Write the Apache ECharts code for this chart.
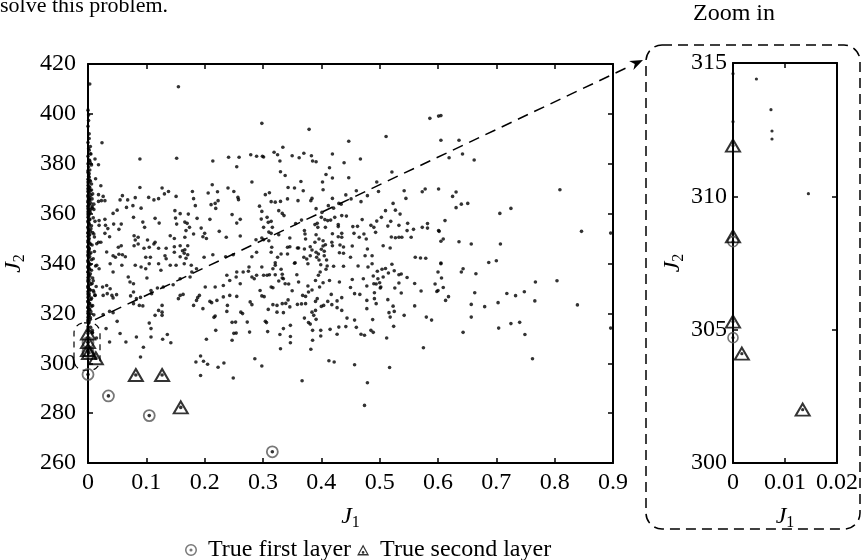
<!DOCTYPE html>
<html><head><meta charset="utf-8">
<script src="https://cdn.jsdelivr.net/npm/echarts@6/dist/echarts.min.js"></script>
<style>html,body{margin:0;padding:0;background:#fff}#c{width:863px;height:560px}</style>
</head><body><div id="c"></div>
<script>
// ---- data (J1, J2) ----
const xTicksMain = ['0','0.1','0.2','0.3','0.4','0.5','0.6','0.7','0.8','0.9'];
const yTicksMain = ['260','280','300','320','340','360','380','400','420'];
const legendNames = ['True first layer', 'True second layer'];

const firstLayer = [[0,295.5],[0.035,286.9],[0.105,279.0],[0.316,264.5],[0,304.7],[0,308.3]];
const secondLayer = [[0.082,295.3],[0.127,295.3],[0.159,282.3],[0,305.3],[0,308.5],[0,311.9],[0.0017,304.1],[0.0134,302.0]];

const columnNearZero = [[0,401.5],[0.001,399.5],[0,395],[0.002,392],[0,388.5],[0.001,386],[0.004,384],[0,383],[0.002,381.5],[0,380],[0.001,378.8],[0.003,377.5],[0,376.5],[0.001,375.5],[0.002,374.6],[0,373.8],[0.004,373],[0.001,372.2],[0,371.3],[0.003,370.5],[0.001,369.8],[0,369],[0.002,368.2],[0.005,367.4],[0,366.8],[0.001,366],[0.003,365.3],[0,364.6],[0.002,363.8],[0,363],[0.001,362.3],[0.004,361.6],[0,360.8],[0.002,360],[0.001,359.3],[0,358.5],[0.003,357.8],[0,357],[0.001,356.2],[0.002,355.4],[0,354.6],[0.005,353.9],[0.001,353.1],[0,352.4],[0.003,351.6],[0,350.8],[0.002,350],[0.001,349.2],[0,348.5],[0.004,347.7],[0,346.9],[0.002,346.1],[0.001,345.3],[0,344.6],[0.003,343.8],[0,343],[0.001,342.2],[0.006,341.5],[0,340.7],[0.002,339.9],[0.001,339.1],[0,338.3],[0.003,337.5],[0,336.7],[0.004,335.9],[0.001,335.2],[0,334.4],[0.002,333.6],[0,332.8],[0.007,332],[0.001,331.2],[0,330.4],[0.003,329.6],[0,328.8],[0.002,328],[0.001,327.2],[0,326.4],[0.005,325.6],[0,324.8],[0.002,324],[0.001,323.2],[0,322.4],[0.003,321.6],[0,320.8],[0.001,320],[0.002,319.2],[0,318.4],[0.004,317.6],[0,316.8],[0.001,316],[0,314.6],[0,312.8],[0.0045,314.4],[0.0073,313.25],[0.0075,312.45],[0.0075,312.15],[0.0145,310.1]];

const columnDense = [[0,377.2],[0.002,376.1],[0.001,374.9],[0.003,373.4],[0,372.7],[0.006,371.9],[0.002,370.8],[0,370.1],[0.004,369.3],[0.001,368.6],[0.008,367.9],[0,367.3],[0.003,366.4],[0.002,365.7],[0,365.1],[0.005,364.2],[0.001,363.4],[0.007,362.8],[0,362],[0.002,361.2],[0.004,360.4],[0,359.8],[0.001,359],[0.009,358.3],[0.003,357.5],[0,356.6],[0.002,355.9],[0.006,355.1],[0,354.3],[0.001,353.6],[0.004,352.9],[0,352.1],[0.002,351.2],[0.011,350.6],[0.001,349.8],[0,349.1],[0.003,348.2],[0.007,347.4],[0,346.5],[0.002,345.8],[0.001,345],[0.005,344.3],[0,343.5],[0.003,342.7],[0.009,341.9],[0,341.2],[0.001,340.4],[0.004,339.6],[0,338.8],[0.002,338.1],[0.006,337.3],[0,336.5],[0.001,335.7],[0.003,334.9],[0.008,334.2],[0,333.4],[0.002,332.5],[0.005,331.7],[0,330.9],[0.001,330.1],[0.004,329.3],[0.010,328.6],[0,327.8],[0.002,327],[0.006,326.1],[0.001,325.3],[0,324.6],[0.003,323.9],[0.008,323.1],[0,322.3],[0.002,321.5],[0.005,320.7],[0,319.9],[0.001,319.1],[0.004,318.3],[0,317.4],[0.002,316.6],[0.007,365.9],[0.010,361.7],[0.012,356.9],[0.008,352.4],[0.011,344.8],[0.013,339],[0.009,333.1],[0.012,327.3],[0.006,322.9],[0.010,319.4],[0.014,330.8],[0.015,347.9],[0.004,386.9],[0.002,390.1],[0.001,397.3],[0.003,381.2],[0.006,379.5],[0.002,385.4]];

const upperLeft = [[0.003,412.0],[0.155,410.9],[0.298,396.2],[0.024,388.4],[0.005,383.9],[0.012,381.9],[0.018,379.6],[0.004,380.4],[0.089,381.9],[0.152,382.2],[0.214,381.1],[0.241,382.6],[0.259,382.6],[0.279,383.6],[0.289,383.0],[0.299,383.0],[0.255,378.8],[0.013,374.0],[0.022,371.2],[0.281,372.7],[0.213,371.6],[0.089,370.5],[0.127,370.3],[0.138,368.9],[0.179,368.9],[0.206,368.3],[0.222,368.8],[0.240,370.3],[0.250,368.9],[0.006,369.5],[0.018,367.6],[0.026,366.9],[0.059,367.2],[0.055,365.5],[0.068,365.5],[0.081,366.4],[0.104,366.5],[0.113,365.5],[0.121,366.0],[0.131,367.9],[0.151,366.9],[0.181,366.0],[0.211,363.6],[0.218,364.1],[0.223,365.2],[0.219,362.1],[0.257,366.5],[0.258,365.6],[0.184,363.2],[0.018,364.9],[0.023,365.2],[0.029,365.2],[0.010,363.8],[0.007,362.2],[0.043,360.1],[0.050,361.4],[0.066,362.5],[0.077,363.2],[0.091,362.2],[0.078,358.5],[0.115,358.1],[0.122,356.2],[0.094,356.6],[0.097,354.5],[0.149,361.2],[0.158,360.0],[0.150,358.2],[0.152,355.8],[0.172,359.8],[0.166,356.6],[0.170,356.1],[0.187,358.1],[0.247,359.6],[0.255,356.2],[0.261,357.7],[0.294,363.0],[0.298,360.9],[0.297,357.8],[0.209,357.7],[0.019,357.2],[0.029,357.7],[0.019,355.3],[0.030,355.3],[0.044,355.8],[0.057,355.8],[0.053,353.7],[0.034,354.0],[0.079,351.1],[0.081,349.4],[0.086,350.5],[0.102,349.4],[0.113,347.8],[0.115,348.5],[0.141,351.1],[0.148,350.0],[0.174,354.5],[0.168,353.2],[0.166,350.5],[0.181,351.8],[0.194,354.2],[0.200,352.1],[0.197,350.7],[0.203,350.0],[0.225,352.9],[0.237,350.5],[0.261,351.0],[0.288,349.5],[0.029,352.1],[0.037,350.7],[0.010,351.8],[0.018,348.5],[0.022,348.5],[0.032,344.6],[0.043,343.1],[0.047,342.5],[0.053,343.7],[0.059,343.5],[0.064,342.7],[0.052,346.5],[0.057,347.1],[0.079,347.1],[0.086,347.8],[0.096,346.1],[0.105,346.5],[0.121,346.1],[0.134,346.1],[0.099,342.5],[0.107,342.5],[0.132,343.1],[0.134,341.9],[0.148,346.7],[0.158,347.1],[0.162,345.1],[0.166,345.5],[0.165,344.1],[0.171,343.5],[0.168,342.1],[0.171,347.1],[0.158,342.7],[0.148,344.5],[0.199,342.5],[0.214,343.5],[0.236,342.7],[0.249,343.5],[0.281,342.7],[0.289,344.5]];

const upperMiddle = [[0.379,393.8],[0.586,398.2],[0.601,399.1],[0.511,390.9],[0.447,389.0],[0.334,386.6],[0.319,384.6],[0.325,383.6],[0.301,382.7],[0.350,383.2],[0.362,382.4],[0.370,384.2],[0.383,383.2],[0.385,381.1],[0.391,380.8],[0.419,383.9],[0.439,380.4],[0.467,381.9],[0.329,381.1],[0.414,378.4],[0.330,376.8],[0.338,375.3],[0.408,375.7],[0.419,374.3],[0.447,374.4],[0.521,376.7],[0.365,372.9],[0.402,372.7],[0.495,372.7],[0.498,368.9],[0.601,369.9],[0.578,369.9],[0.573,368.8],[0.542,369.2],[0.545,366.1],[0.343,370.5],[0.354,370.3],[0.369,369.2],[0.403,369.6],[0.304,367.6],[0.311,368.4],[0.460,369.2],[0.479,367.2],[0.442,367.5],[0.384,366.1],[0.382,365.2],[0.360,365.2],[0.342,365.9],[0.314,364.8],[0.321,364.6],[0.330,364.9],[0.419,366.1],[0.430,364.1],[0.434,363.8],[0.451,365.9],[0.468,364.8],[0.523,364.1],[0.527,361.4],[0.535,359.8],[0.412,363.2],[0.421,362.2],[0.391,362.0],[0.401,360.5],[0.510,361.2],[0.327,361.2],[0.333,360.1],[0.336,359.2],[0.307,358.5],[0.314,356.9],[0.309,356.5],[0.356,356.0],[0.366,357.4],[0.400,358.5],[0.406,357.6],[0.411,357.2],[0.423,358.5],[0.435,359.2],[0.443,359.0],[0.470,357.6],[0.503,358.5],[0.495,357.0],[0.519,356.9],[0.301,354.5],[0.310,352.6],[0.316,354.5],[0.371,353.2],[0.372,351.8],[0.389,355.6],[0.393,356.1],[0.394,354.5],[0.407,354.5],[0.416,357.4],[0.429,355.6],[0.429,354.8],[0.454,354.8],[0.462,354.9],[0.485,355.3],[0.490,354.5],[0.514,355.0],[0.533,355.3],[0.548,356.1],[0.547,353.2],[0.558,353.7],[0.573,354.5],[0.582,356.0],[0.582,354.2],[0.601,353.2],[0.327,351.5],[0.346,350.2],[0.298,350.2],[0.314,352.1],[0.373,349.8],[0.361,346.2],[0.371,345.8],[0.381,346.7],[0.391,351.5],[0.389,348.5],[0.396,349.8],[0.403,349.1],[0.403,347.0],[0.400,345.7],[0.407,347.5],[0.405,344.9],[0.419,351.9],[0.418,348.5],[0.419,347.1],[0.429,350.7],[0.435,352.1],[0.435,350.5],[0.432,347.4],[0.438,346.6],[0.456,352.1],[0.465,350.5],[0.453,347.0],[0.473,351.8],[0.477,349.8],[0.493,352.5],[0.506,347.1],[0.520,350.6],[0.527,350.3],[0.533,350.5],[0.538,350.5],[0.554,350.5],[0.315,346.5],[0.314,344.5],[0.301,349.5],[0.310,349.1],[0.342,346.5],[0.346,346.7],[0.359,346.2],[0.384,345.4],[0.391,344.5],[0.395,343.8],[0.392,342.5],[0.396,341.4],[0.381,343.1],[0.370,342.5],[0.375,341.8],[0.405,343.1],[0.409,341.4],[0.431,344.3],[0.438,344.1],[0.450,342.5],[0.479,345.8],[0.487,343.1],[0.475,343.1],[0.518,346.2],[0.561,342.5],[0.570,342.2],[0.579,342.1],[0.325,342.5],[0.321,340.3],[0.331,343.8],[0.342,343.8],[0.355,340.3]];

const upperRight = [[0.605,399.3],[0.605,389.4],[0.636,389.4],[0.619,382.4],[0.642,383.9],[0.662,381.5],[0.631,368.7],[0.625,366.9],[0.809,369.6],[0.640,363.8],[0.651,364.1],[0.631,362.4],[0.725,362.1],[0.706,360.1],[0.612,357.2],[0.602,352.9],[0.609,349.8],[0.605,348.9],[0.636,348.7],[0.657,347.8],[0.707,347.8],[0.846,352.9],[0.896,352.2],[0.687,340.4],[0.700,341.1],[0.605,340.2]];

const lowerLeft = [[0.026,319.5],[0.037,320.8],[0.043,320.3],[0.031,313.9],[0.037,308.5],[0.050,316.8],[0.055,311.9],[0.065,308.5],[0.083,310.5],[0.095,306.4],[0.090,302.5],[0.105,316.1],[0.108,313.9],[0.108,310.5],[0.115,319.2],[0.121,321.2],[0.127,320.5],[0.127,319.2],[0.127,323.2],[0.128,309.6],[0.136,311.5],[0.142,308.2],[0.088,323.2],[0.094,323.0],[0.078,323.9],[0.083,325.9],[0.073,327.0],[0.078,328.6],[0.090,326.4],[0.155,325.9],[0.158,327.2],[0.163,327.6],[0.181,323.2],[0.186,325.2],[0.188,326.3],[0.191,327.2],[0.197,321.9],[0.209,324.8],[0.212,324.3],[0.203,309.6],[0.219,313.2],[0.218,318.9],[0.216,318.4],[0.185,300.5],[0.193,302.9],[0.198,300.8],[0.205,299.6],[0.193,295.1],[0.223,298.4],[0.233,300.1],[0.249,294.1],[0.247,309.2],[0.250,312.0],[0.253,316.5],[0.247,316.4],[0.254,312.1],[0.262,320.5],[0.265,319.9],[0.273,316.5],[0.277,312.5],[0.238,320.8],[0.239,323.2],[0.243,327.2],[0.255,326.8],[0.278,324.6],[0.281,323.5],[0.286,301.8],[0.295,329.2],[0.015,339.3],[0.019,337.9],[0.038,339.9],[0.043,336.6],[0.058,339.3],[0.081,339.3],[0.091,338.6],[0.105,339.9],[0.099,337.9],[0.121,339.9],[0.125,337.3],[0.141,339.3],[0.151,339.3],[0.165,339.9],[0.177,339.3],[0.186,337.9],[0.175,334.6],[0.178,336.6],[0.158,333.9],[0.146,331.5],[0.129,330.6],[0.119,330.2],[0.108,329.2],[0.109,327.9],[0.025,330.6],[0.032,331.2],[0.038,329.9],[0.033,327.9],[0.041,327.2],[0.043,326.2],[0.049,327.5],[0.012,327.2],[0.009,329.2],[0.026,327.2],[0.072,332.6],[0.078,331.9],[0.069,334.6],[0.101,334.2],[0.201,330.6],[0.218,330.6],[0.232,331.2],[0.238,335.3],[0.243,333.2],[0.255,336.6],[0.254,334.6],[0.261,331.9],[0.266,336.6],[0.276,338.6],[0.275,336.9],[0.281,334.6],[0.285,333.9],[0.289,335.3],[0.298,338.6],[0.232,326.6],[0.221,325.2]];

const lowerMiddle = [[0.298,298.9],[0.367,293.0],[0.413,301.0],[0.422,300.5],[0.457,299.4],[0.479,292.2],[0.474,283.1],[0.517,298.3],[0.575,306.2],[0.330,305.8],[0.382,305.6],[0.347,308.2],[0.347,310.7],[0.347,315.2],[0.329,311.5],[0.335,313.9],[0.308,312.7],[0.304,316.8],[0.306,316.3],[0.309,321.6],[0.324,320.5],[0.335,320.3],[0.324,323.2],[0.317,323.5],[0.298,327.0],[0.302,326.7],[0.343,325.4],[0.346,322.6],[0.333,323.9],[0.339,324.0],[0.359,323.6],[0.366,323.8],[0.373,323.9],[0.368,327.2],[0.373,326.8],[0.378,328.6],[0.384,329.4],[0.377,331.0],[0.350,329.1],[0.314,330.6],[0.317,330.3],[0.327,333.0],[0.333,334.2],[0.338,331.9],[0.344,331.8],[0.301,335.3],[0.307,335.3],[0.311,335.5],[0.321,335.5],[0.317,337.9],[0.321,339.3],[0.331,337.7],[0.333,335.7],[0.335,333.9],[0.354,340.1],[0.358,335.5],[0.361,332.6],[0.377,339.9],[0.390,333.2],[0.395,335.3],[0.398,336.6],[0.399,339.5],[0.408,337.7],[0.414,333.2],[0.410,339.0],[0.403,332.3],[0.397,330.6],[0.421,338.9],[0.438,338.9],[0.431,332.6],[0.417,327.6],[0.390,324.8],[0.393,325.9],[0.400,322.8],[0.404,323.2],[0.411,324.8],[0.418,323.5],[0.427,325.0],[0.435,326.3],[0.427,322.3],[0.435,321.2],[0.384,320.5],[0.390,321.2],[0.387,319.2],[0.371,318.1],[0.378,316.3],[0.381,315.7],[0.391,317.6],[0.385,313.2],[0.399,313.2],[0.399,310.9],[0.385,309.2],[0.415,313.6],[0.430,314.5],[0.427,311.6],[0.444,318.1],[0.442,314.7],[0.457,317.3],[0.460,314.4],[0.468,311.6],[0.474,311.2],[0.488,317.5],[0.485,313.2],[0.489,312.4],[0.450,330.4],[0.453,333.6],[0.457,327.9],[0.466,327.6],[0.472,333.9],[0.478,331.0],[0.463,339.0],[0.480,338.6],[0.487,339.9],[0.489,335.0],[0.490,331.9],[0.494,331.8],[0.500,332.3],[0.501,330.2],[0.491,328.3],[0.491,325.9],[0.494,323.9],[0.478,325.2],[0.478,321.9],[0.496,336.9],[0.504,337.7],[0.510,338.0],[0.515,336.2],[0.521,339.7],[0.525,337.1],[0.533,335.5],[0.537,335.8],[0.547,334.4],[0.560,332.0],[0.506,334.6],[0.502,330.6],[0.497,333.9],[0.526,330.2],[0.533,332.2],[0.537,328.2],[0.514,325.5],[0.516,320.3],[0.523,322.9],[0.525,320.8],[0.518,318.5],[0.524,314.8],[0.512,310.1],[0.542,319.2],[0.560,323.0],[0.571,329.0],[0.580,318.5],[0.589,317.3],[0.595,331.8],[0.598,328.8]];

const lowerRight = [[0.605,339.9],[0.600,336.6],[0.606,334.2],[0.609,330.4],[0.600,329.2],[0.640,336.6],[0.643,337.9],[0.665,335.9],[0.613,325.2],[0.618,326.7],[0.663,328.3],[0.657,323.6],[0.680,322.7],[0.703,324.3],[0.718,328.0],[0.733,327.1],[0.748,328.7],[0.767,332.6],[0.766,325.0],[0.804,333.1],[0.839,323.4],[0.657,318.5],[0.643,312.4],[0.704,314.1],[0.725,315.9],[0.740,316.4],[0.749,311.5],[0.762,301.8],[0.896,314.1]];

const population = [].concat(columnNearZero, columnDense, upperLeft, upperMiddle, upperRight, lowerLeft, lowerMiddle, lowerRight, firstLayer, secondLayer);

// ---- chart ----
const FONT = 'Liberation Serif';
const chart = echarts.init(document.getElementById('c'), null, {renderer: 'canvas'});
const lab = {color: '#000', fontFamily: FONT, fontSize: 24};
const nameRich = {
  i: {fontStyle: 'italic', fontFamily: FONT, fontSize: 24, color: '#000'},
  s: {fontFamily: FONT, fontSize: 16, color: '#000', padding: [12, 0, 0, 0]}
};
function axisBase(extra) {
  return Object.assign({
    axisLine: {show: true, onZero: false, lineStyle: {color: '#000', width: 2}},
    axisTick: {show: true, inside: true, length: 5, lineStyle: {color: '#000', width: 1.5}},
    splitLine: {show: false},
    axisLabel: Object.assign({}, lab)
  }, extra);
}
const ringCircle = 'path://M0,-10A10,10 0 1,1 0,10A10,10 0 1,1 0,-10ZM0,-7.5A7.5,7.5 0 1,0 0,7.5A7.5,7.5 0 1,0 0,-7.5ZM0,-2.6A2.6,2.6 0 1,1 0,2.6A2.6,2.6 0 1,1 0,-2.6Z';
const ringTri = 'path://M0,-11L11,9L-11,9ZM0,-6.5L-7,6.5L7,6.5ZM0,1A2.5,2.5 0 1,1 0,6A2.5,2.5 0 1,1 0,1Z';

const option = {
  animation: false,
  backgroundColor: '#fff',
  grid: [
    {left: 88, top: 64, width: 525, height: 399, containLabel: false, outerBoundsMode: 'none'},
    {left: 733, top: 63, width: 104, height: 400, containLabel: false, outerBoundsMode: 'none'}
  ],
  xAxis: [
    axisBase({gridIndex: 0, type: 'value', min: 0, max: 0.9, interval: 0.1, position: 'bottom',
      axisLabel: Object.assign({}, lab, {margin: 8}),
      name: '{i|J}{s|1}', nameLocation: 'middle', nameGap: 40, nameTextStyle: {rich: nameRich}}),
    axisBase({gridIndex: 0, type: 'value', min: 0, max: 0.9, interval: 0.1, position: 'top', axisLabel: {show: false}}),
    axisBase({gridIndex: 1, type: 'value', min: 0, max: 0.02, interval: 0.01, position: 'bottom',
      axisLabel: Object.assign({}, lab, {margin: 8}),
      name: '{i|J}{s|1}', nameLocation: 'middle', nameGap: 40, nameTextStyle: {rich: nameRich}}),
    axisBase({gridIndex: 1, type: 'value', min: 0, max: 0.02, interval: 0.01, position: 'top', axisLabel: {show: false}})
  ],
  yAxis: [
    axisBase({gridIndex: 0, type: 'value', min: 260, max: 420, interval: 20, position: 'left',
      axisLabel: Object.assign({}, lab, {margin: 12}),
      name: '{i|J}{s|2}', nameLocation: 'middle', nameGap: 60, nameTextStyle: {rich: nameRich}}),
    axisBase({gridIndex: 0, type: 'value', min: 260, max: 420, interval: 20, position: 'right', axisLabel: {show: false}}),
    axisBase({gridIndex: 1, type: 'value', min: 300, max: 315, interval: 5, position: 'left',
      axisLabel: Object.assign({}, lab, {margin: 6}),
      name: '{i|J}{s|2}', nameLocation: 'middle', nameGap: 46, nameTextStyle: {rich: nameRich}}),
    axisBase({gridIndex: 1, type: 'value', min: 300, max: 315, interval: 5, position: 'right', axisLabel: {show: false}})
  ],
  legend: {
    left: 180, top: 533, itemGap: 6, itemWidth: 12, itemHeight: 12,
    textStyle: {fontFamily: FONT, fontSize: 24, color: '#000', padding: [0, 0, 0, 6]},
    data: [
      {name: legendNames[0], icon: ringCircle, itemStyle: {color: '#555', borderWidth: 0}},
      {name: legendNames[1], icon: ringTri, itemStyle: {color: '#000', borderWidth: 0}}
    ]
  },
  series: [
    {type: 'scatter', xAxisIndex: 0, yAxisIndex: 0, data: population, symbol: 'circle', symbolSize: 3.6,
      itemStyle: {color: '#000'}, silent: true, z: 3},
    {type: 'scatter', xAxisIndex: 2, yAxisIndex: 2, data: population, symbol: 'circle', symbolSize: 3.2,
      itemStyle: {color: '#000'}, silent: true, z: 3, clip: true},
    {name: legendNames[0], type: 'scatter', xAxisIndex: 0, yAxisIndex: 0, data: firstLayer, symbol: 'circle', symbolSize: 11,
      itemStyle: {color: 'rgba(0,0,0,0)', borderColor: '#555', borderWidth: 1.8}, z: 4},
    {name: legendNames[1], type: 'scatter', xAxisIndex: 0, yAxisIndex: 0, data: secondLayer, symbol: 'triangle', symbolSize: [14, 12],
      itemStyle: {color: 'rgba(0,0,0,0)', borderColor: '#000', borderWidth: 2}, z: 4},
    {name: legendNames[0], type: 'scatter', xAxisIndex: 2, yAxisIndex: 2, data: firstLayer, symbol: 'circle', symbolSize: 10, clip: true,
      itemStyle: {color: 'rgba(0,0,0,0)', borderColor: '#555', borderWidth: 1.6}, z: 4},
    {name: legendNames[1], type: 'scatter', xAxisIndex: 2, yAxisIndex: 2, data: secondLayer, symbol: 'triangle', symbolSize: [14, 12], clip: true,
      itemStyle: {color: 'rgba(0,0,0,0)', borderColor: '#000', borderWidth: 2}, z: 4}
  ]
};
chart.setOption(option);

// annotations placed from axis coordinates
const p0 = chart.convertToPixel({gridIndex: 0}, [0.012, 317.5]);
const boxTL = chart.convertToPixel({gridIndex: 0}, [0, 315]);
const boxBR = chart.convertToPixel({gridIndex: 0}, [0, 300]);
const zTL = chart.convertToPixel({gridIndex: 1}, [0, 315]);
const zBR = chart.convertToPixel({gridIndex: 1}, [0.02, 300]);
const zoomLeft = zTL[0] - 87, zoomTop = zTL[1] - 18, zoomRight = zBR[0] + 23, zoomBottom = zBR[1] + 66;
const arrowEnd = [zoomLeft - 3, zoomTop + 15];
const ang = Math.atan2(arrowEnd[1] - p0[1], arrowEnd[0] - p0[0]);
const ah = 13, aw = 5;
const back = [arrowEnd[0] - ah * Math.cos(ang), arrowEnd[1] - ah * Math.sin(ang)];
const nx = -Math.sin(ang), ny = Math.cos(ang);
chart.setOption({
  graphic: [
    {type: 'line', shape: {x1: p0[0], y1: p0[1], x2: back[0], y2: back[1]},
      style: {stroke: '#000', lineWidth: 1.5, lineDash: [11, 7]}, z: 10},
    {type: 'polygon', shape: {points: [arrowEnd, [back[0] + nx * aw, back[1] + ny * aw], [back[0] + ah*0.3*Math.cos(ang), back[1] + ah*0.3*Math.sin(ang)], [back[0] - nx * aw, back[1] - ny * aw]]},
      style: {fill: '#000'}, z: 10},
    {type: 'rect', shape: {x: boxTL[0] - 14, y: boxTL[1] - 3, width: 26, height: boxBR[1] - boxTL[1] + 10, r: 10},
      style: {fill: 'none', stroke: '#000', lineWidth: 1.2, lineDash: [6, 5]}, z: 10},
    {type: 'rect', shape: {x: zoomLeft, y: zoomTop, width: zoomRight - zoomLeft, height: zoomBottom - zoomTop, r: 16},
      style: {fill: 'none', stroke: '#000', lineWidth: 1.5, lineDash: [10, 6]}, z: 10},
    {type: 'text', left: 693, top: 2, style: {text: 'Zoom in', font: '24px "Liberation Serif"', fill: '#000'}},
    {type: 'text', left: 0, top: -5, style: {text: 'solve this problem.', font: '22px "Liberation Serif"', fill: '#000'}}
  ]
});
</script>
</body></html>
